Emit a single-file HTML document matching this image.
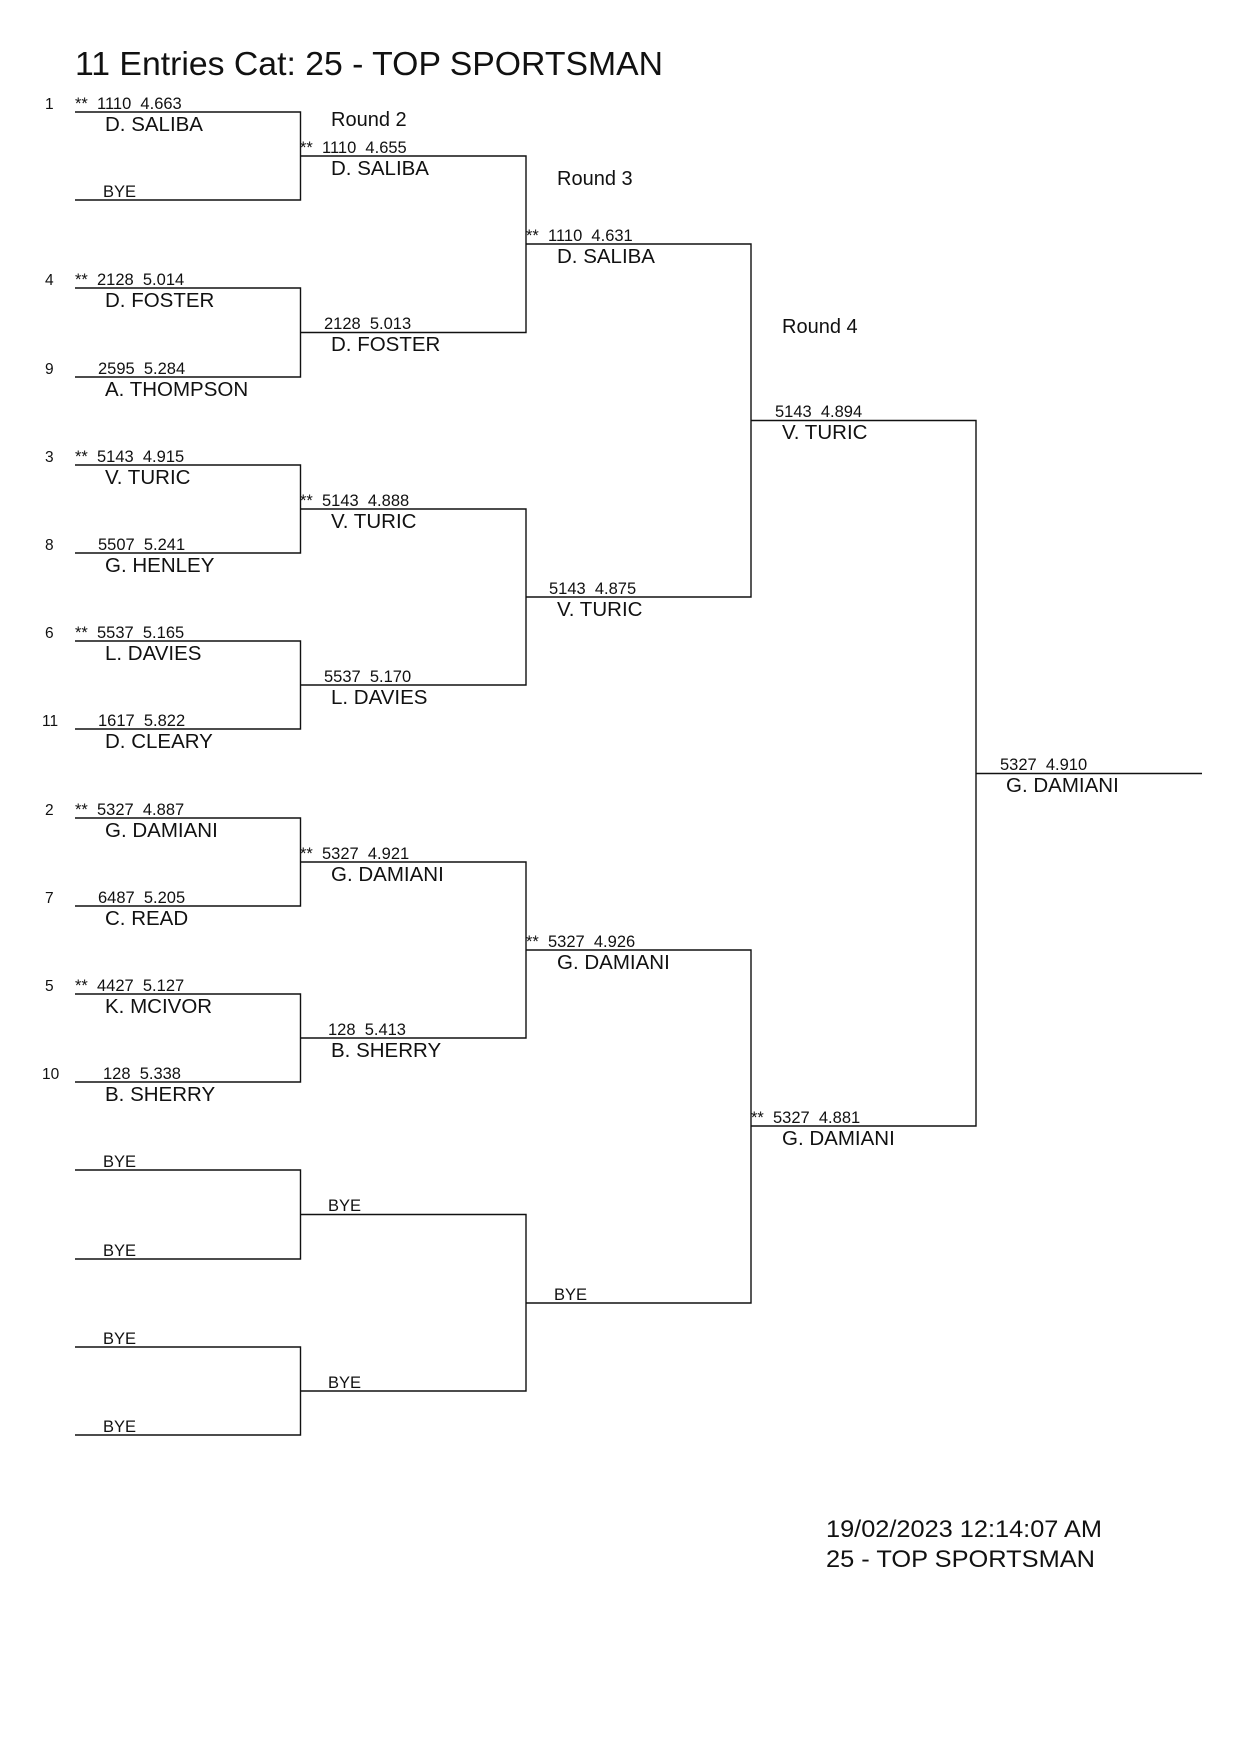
<!DOCTYPE html>
<html><head><meta charset="utf-8"><style>
html,body{margin:0;padding:0;background:#fff;}
svg{display:block;}
text{font-family:"Liberation Sans",Arial,sans-serif;fill:#111;white-space:pre;}
.s{font-size:16.5px;}
.n{font-size:20.5px;}
.r{font-size:20px;}
</style></head><body>
<svg width="1240" height="1753" viewBox="0 0 1240 1753" xmlns="http://www.w3.org/2000/svg" xml:space="preserve">
<rect width="1240" height="1753" fill="#fff"/>
<text x="75" y="75" font-size="33" textLength="588" lengthAdjust="spacingAndGlyphs">11 Entries Cat: 25 - TOP SPORTSMAN</text>

<g stroke="#111" stroke-width="1.4" fill="none">
<path d="M75 112H300.5V200H75"/>
<path d="M75 288H300.5V377H75"/>
<path d="M75 465H300.5V553H75"/>
<path d="M75 641H300.5V729H75"/>
<path d="M75 818H300.5V906H75"/>
<path d="M75 994H300.5V1082H75"/>
<path d="M75 1170H300.5V1259H75"/>
<path d="M75 1347H300.5V1435H75"/>
<path d="M300.5 156H526V332.5H300.5"/>
<path d="M300.5 509H526V685H300.5"/>
<path d="M300.5 862H526V1038H300.5"/>
<path d="M300.5 1214.5H526V1391H300.5"/>
<path d="M526 244H751V597H526"/>
<path d="M526 950H751V1303H526"/>
<path d="M751 420.5H976V1126H751"/>
<path d="M976 773.5H1202"/>
</g>

<text class="r" x="331" y="126">Round 2</text>
<text class="r" x="557" y="185">Round 3</text>
<text class="r" x="782" y="333">Round 4</text>

<g font-size="15.5">
<text x="45" y="109">1</text>
<text x="45" y="285">4</text>
<text x="45" y="374">9</text>
<text x="45" y="462">3</text>
<text x="45" y="550">8</text>
<text x="45" y="638">6</text>
<text x="42" y="726">11</text>
<text x="45" y="815">2</text>
<text x="45" y="903">7</text>
<text x="45" y="991">5</text>
<text x="42" y="1079">10</text>
</g>

<g class="s">
<text x="75" y="109">**  1110  4.663</text>
<text x="103" y="197">BYE</text>
<text x="75" y="285">**  2128  5.014</text>
<text x="98" y="374">2595  5.284</text>
<text x="75" y="462">**  5143  4.915</text>
<text x="98" y="550">5507  5.241</text>
<text x="75" y="638">**  5537  5.165</text>
<text x="98" y="726">1617  5.822</text>
<text x="75" y="815">**  5327  4.887</text>
<text x="98" y="903">6487  5.205</text>
<text x="75" y="991">**  4427  5.127</text>
<text x="103" y="1079">128  5.338</text>
<text x="103" y="1167">BYE</text>
<text x="103" y="1256">BYE</text>
<text x="103" y="1344">BYE</text>
<text x="103" y="1432">BYE</text>
</g>
<g class="n">
<text x="105" y="131">D. SALIBA</text>
<text x="105" y="307">D. FOSTER</text>
<text x="105" y="396">A. THOMPSON</text>
<text x="105" y="484">V. TURIC</text>
<text x="105" y="572">G. HENLEY</text>
<text x="105" y="660">L. DAVIES</text>
<text x="105" y="748">D. CLEARY</text>
<text x="105" y="837">G. DAMIANI</text>
<text x="105" y="925">C. READ</text>
<text x="105" y="1013">K. MCIVOR</text>
<text x="105" y="1101">B. SHERRY</text>
</g>

<g class="s">
<text x="300" y="153">**  1110  4.655</text>
<text x="324" y="329">2128  5.013</text>
<text x="300" y="506">**  5143  4.888</text>
<text x="324" y="682">5537  5.170</text>
<text x="300" y="859">**  5327  4.921</text>
<text x="328" y="1035">128  5.413</text>
<text x="328" y="1211">BYE</text>
<text x="328" y="1388">BYE</text>
</g>
<g class="n">
<text x="331" y="175">D. SALIBA</text>
<text x="331" y="351">D. FOSTER</text>
<text x="331" y="528">V. TURIC</text>
<text x="331" y="704">L. DAVIES</text>
<text x="331" y="881">G. DAMIANI</text>
<text x="331" y="1057">B. SHERRY</text>
</g>

<g class="s">
<text x="526" y="241">**  1110  4.631</text>
<text x="549" y="594">5143  4.875</text>
<text x="526" y="947">**  5327  4.926</text>
<text x="554" y="1300">BYE</text>
</g>
<g class="n">
<text x="557" y="263">D. SALIBA</text>
<text x="557" y="616">V. TURIC</text>
<text x="557" y="969">G. DAMIANI</text>
</g>

<g class="s">
<text x="775" y="417">5143  4.894</text>
<text x="751" y="1123">**  5327  4.881</text>
</g>
<g class="n">
<text x="782" y="439">V. TURIC</text>
<text x="782" y="1145">G. DAMIANI</text>
</g>

<text class="s" x="1000" y="770">5327  4.910</text>
<text class="n" x="1006" y="792">G. DAMIANI</text>

<text x="826" y="1537" font-size="24" textLength="276" lengthAdjust="spacingAndGlyphs">19/02/2023 12:14:07 AM</text>
<text x="826" y="1567" font-size="24" textLength="269" lengthAdjust="spacingAndGlyphs">25 - TOP SPORTSMAN</text>
</svg>
</body></html>
